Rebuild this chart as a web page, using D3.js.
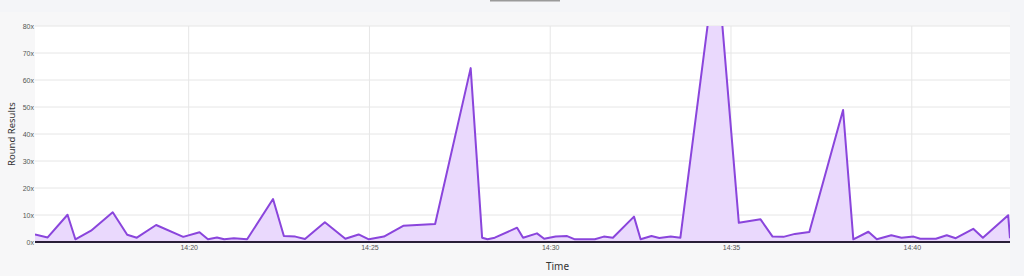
<!DOCTYPE html>
<html lang="en">
<head>
  <meta charset="UTF-8">
  <title>Round Results</title>
  <script src="https://d3js.org/d3.v7.min.js"></script>
  <style>
    body {
      margin: 0;
      background-color: #f4f5f8;
      font-family: "Noto Sans", "Open Sans", sans-serif;
      overflow: hidden;
    }
    .grid line { stroke: #e6e6e6; stroke-width: 1; }
    .tick text { fill: #555; font-size: 7px; }
  </style>
</head>
<body>
  <div id="chart"></div>
  <script>
    // sample times (hh:mm:ss) and multipliers
    const times = [
      "14:15:45", "14:16:06", "14:16:39", "14:16:52", "14:17:18", "14:17:54", "14:18:18", "14:18:34",
      "14:19:06", "14:19:51", "14:20:18", "14:20:32", "14:20:47", "14:20:59", "14:21:15", "14:21:37",
      "14:22:20", "14:22:38", "14:22:57", "14:23:13", "14:23:46", "14:24:20", "14:24:42", "14:24:59",
      "14:25:24", "14:25:56", "14:26:49", "14:27:48", "14:28:07", "14:28:16", "14:28:28", "14:29:05",
      "14:29:15", "14:29:38", "14:29:50", "14:30:09", "14:30:28", "14:30:41", "14:31:14", "14:31:29",
      "14:31:44", "14:32:19", "14:32:30", "14:32:48", "14:33:01", "14:33:20", "14:33:36", "14:34:36",
      "14:35:13", "14:35:49", "14:36:09", "14:36:27", "14:36:46", "14:37:10", "14:38:06", "14:38:23",
      "14:38:48", "14:39:02", "14:39:26", "14:39:43", "14:40:03", "14:40:14", "14:40:40", "14:40:58",
      "14:41:13", "14:41:42", "14:41:58", "14:42:40", "14:42:43"
    ];
    const results = [
      2.8, 1.7, 10.1, 1.0, 4.2, 11.0, 2.7, 1.6,
      6.3, 1.9, 3.6, 1.0, 1.7, 1.0, 1.4, 1.0,
      15.9, 2.2, 2.0, 1.1, 7.3, 1.2, 2.8, 1.0,
      2.0, 6.0, 6.7, 64.4, 1.6, 1.0, 1.6, 5.3,
      1.6, 3.2, 1.2, 2.0, 2.2, 1.0, 1.0, 2.0,
      1.6, 9.4, 1.0, 2.2, 1.5, 2.0, 1.6, 106,
      7.1, 8.4, 2.0, 1.9, 3.0, 3.7, 48.9, 1.0,
      3.8, 1.0, 2.5, 1.6, 2.0, 1.2, 1.2, 2.5,
      1.4, 4.9, 1.6, 9.9, 1.4
    ];
    const yTicks = [0, 10, 20, 30, 40, 50, 60, 70, 80];
    const xTicks = ["14:20", "14:25", "14:30", "14:35", "14:40"];

    const width = 1024, height = 276;
    const margin = { top: 26, right: 14, bottom: 34, left: 35 };
    const innerW = width - margin.left - margin.right;
    const innerH = height - margin.top - margin.bottom;

    const parse = d3.timeParse("%H:%M:%S");
    const parseTick = d3.timeParse("%H:%M");
    const data = times.map((t, i) => ({ t: parse(t), v: results[i] }));

    const x = d3.scaleTime().domain(d3.extent(data, d => d.t)).range([0, innerW]);
    const y = d3.scaleLinear().domain([0, 80]).range([innerH, 0]);

    const svg = d3.select("#chart").append("svg")
      .attr("width", width)
      .attr("height", height);

    // page background bands
    svg.append("rect").attr("x", 0).attr("y", 12).attr("width", 1010).attr("height", height - 12)
      .attr("fill", "#f7f7f8");
    svg.append("rect").attr("x", 490).attr("y", 0).attr("width", 70).attr("height", 1.5)
      .attr("fill", "#9a9a9a");

    const g = svg.append("g").attr("transform", `translate(${margin.left},${margin.top})`);

    g.append("rect").attr("width", innerW).attr("height", innerH).attr("fill", "#fff").attr("rx", 2);

    g.append("clipPath").attr("id", "clip")
      .append("rect").attr("width", innerW).attr("height", innerH + 2);

    // grid
    g.append("g").attr("class", "grid")
      .selectAll("line").data(yTicks.slice(1)).join("line")
      .attr("x1", 0).attr("x2", innerW)
      .attr("y1", d => y(d)).attr("y2", d => y(d));
    g.append("g").attr("class", "grid")
      .selectAll("line").data(xTicks.map(parseTick)).join("line")
      .attr("x1", d => x(d)).attr("x2", d => x(d))
      .attr("y1", 0).attr("y2", innerH);

    const area = d3.area().x(d => x(d.t)).y0(innerH).y1(d => y(d.v));
    const line = d3.line().x(d => x(d.t)).y(d => y(d.v));

    const plot = g.append("g").attr("clip-path", "url(#clip)");
    plot.append("path").datum(data).attr("d", area).attr("fill", "#ead9fd");
    plot.append("path").datum(data).attr("d", line)
      .attr("fill", "none").attr("stroke", "#8a45dc").attr("stroke-width", 2)
      .attr("stroke-linejoin", "round");

    // axes
    const yAxis = g.append("g")
      .call(d3.axisLeft(y).tickValues(yTicks).tickFormat(d => d + "x").tickSize(0).tickPadding(1));
    yAxis.select(".domain").remove();

    const xAxis = g.append("g").attr("transform", `translate(0,${innerH})`)
      .call(d3.axisBottom(x).tickValues(xTicks.map(parseTick)).tickFormat(d3.timeFormat("%H:%M"))
        .tickSize(0).tickPadding(3));
    xAxis.select(".domain").remove();

    g.append("line").attr("x1", 0).attr("x2", innerW).attr("y1", innerH).attr("y2", innerH)
      .attr("stroke", "#2a1f38").attr("stroke-width", 2);

    svg.append("text")
      .attr("transform", `translate(15,${margin.top + innerH / 2}) rotate(-90)`)
      .attr("text-anchor", "middle")
      .attr("font-size", 9.5).attr("fill", "#333")
      .text("Round Results");

    svg.append("text")
      .attr("x", margin.left + innerW / 2 + 35).attr("y", 270)
      .attr("text-anchor", "middle")
      .attr("font-size", 10).attr("fill", "#333")
      .text("Time");
  </script>
</body>
</html>
